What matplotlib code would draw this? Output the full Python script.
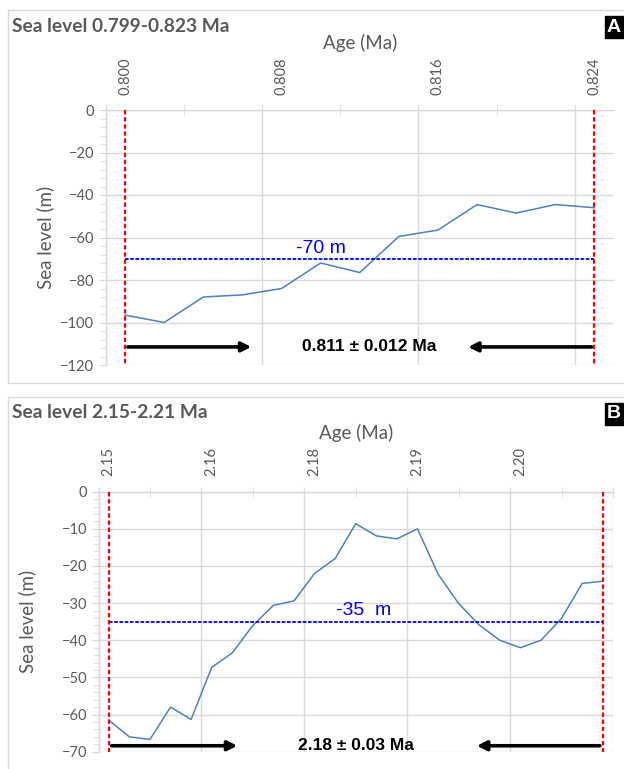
import numpy as np
import matplotlib
matplotlib.use('Agg')
import matplotlib.pyplot as plt
from matplotlib.patches import Rectangle
from matplotlib.ticker import FixedLocator, NullFormatter

# panel A data (category axis, one value per age step)
ageA = [0.800 + 0.002 * i for i in range(13)]
seaA = [-96.5, -100, -88, -87, -84, -72, -76.5, -59.5, -56.5, -44.5, -48.5, -44.5, -46]
ticksA = ['0.800', '0.808', '0.816', '0.824']
levelA = -70
labelA = '0.811 \u00b1 0.012 Ma'

# panel B data
ageB = [2.15 + 0.0025 * i for i in range(25)]
seaB = [-61.5, -66, -66.7, -58, -61.3, -47.3, -43.4, -36, -30.6, -29.4, -22, -18, -8.6,
        -11.9, -12.7, -10, -22.2, -30.1, -35.9, -40, -42, -40, -34.1, -24.7, -24.1]
ticksB = ['2.15', '2.16', '2.18', '2.19', '2.20']
levelB = -35
labelB = '2.18 \u00b1 0.03 Ma'

W, H = 624, 769
GREY = '#d9d9d9'
TXT = '#595959'
plt.rcParams['font.family'] = ['Lato', 'DejaVu Sans']

fig = plt.figure(figsize=(W / 100, H / 100), dpi=100)


def px(l, t, r, b):
    return [l / W, 1 - b / H, (r - l) / W, (b - t) / H]


def panel(rect, box, title, letter, ages, sea, ticklabs, lab_step, ymin, ystep, yminor,
          level, level_txt, level_x, arr_lab, arr_tip1, arr_tip2, arr_y, lab_x, ylab_x):
    # frame
    l, t, r, b = box
    fig.add_artist(Rectangle((l / W, 1 - b / H), (r - l) / W, (b - t) / H,
                             transform=fig.transFigure, fill=False, ec=GREY, lw=1))
    fig.text(12 / W, 1 - (t + 16) / H, title, fontsize=13.8, fontweight='bold',
             color=TXT, va='center', ha='left')
    fig.text(607 / W, 1 - (t + 17) / H, letter, fontsize=14,
             fontweight='bold', color='white', va='center', ha='left',
             family='Liberation Sans',
             bbox=dict(boxstyle='square,pad=0.12', fc='black', ec='black'))

    ax = fig.add_axes(px(*rect))
    n = len(ages)
    x = np.arange(n)
    ax.plot(x, sea, color='#4f81bd', lw=1.1, zorder=3)
    ax.set_xlim(-0.5, n - 0.5)
    ax.set_ylim(ymin, 0)

    for s in ['bottom', 'right']:
        ax.spines[s].set_visible(False)
    for s in ['left', 'top']:
        ax.spines[s].set_color(GREY)
        ax.spines[s].set_linewidth(1)

    # x axis (category boundaries as tick marks / gridlines)
    ax.xaxis.tick_top()
    bounds = np.arange(-0.5, n, lab_step)
    ax.xaxis.set_major_locator(FixedLocator(bounds))
    ax.xaxis.set_minor_locator(FixedLocator(bounds[:-1] + lab_step / 2))
    ax.xaxis.set_major_formatter(NullFormatter())
    ax.tick_params(axis='x', which='both', direction='inout', length=7, color=GREY)
    ax.grid(axis='x', which='major', color=GREY, lw=1)

    # y axis
    ax.set_yticks(np.arange(ymin, 1, ystep))
    ax.yaxis.set_minor_locator(FixedLocator(np.arange(ymin, 0.1, yminor)))
    ax.tick_params(axis='y', which='major', direction='out', length=5, color=GREY,
                   labelcolor=TXT, labelsize=10.5, pad=3)
    ax.tick_params(axis='y', which='minor', direction='out', length=4, color=GREY)
    ax.grid(axis='y', which='major', color=GREY, lw=1)
    ax.set_axisbelow(True)

    # category labels at every lab_step-th category
    sec = ax.secondary_xaxis('top')
    idx = list(range(0, n, lab_step))
    sec.set_xticks(idx, ticklabs, rotation=90)
    sec.tick_params(length=0, labelcolor=TXT, labelsize=10.5, pad=11)
    sec.spines['top'].set_visible(False)
    sec.set_xlabel('Age (Ma)', color=TXT, fontsize=13.5, labelpad=6)
    ax.set_ylabel('Sea level (m)', color=TXT, fontsize=13.5)
    ax.yaxis.set_label_coords(ylab_x, 0.5)

    # bounds of the dated interval
    for xi in [0, n - 1]:
        ax.plot([xi, xi], [0, ymin], color='red', lw=1.6, dashes=(2, 1.2), zorder=4)
    ax.plot([0, n - 1], [level, level], color='blue', lw=1.3, dashes=(2, 0.9), zorder=4)
    ax.text(level_x, level + 0.6, level_txt, color='blue', fontsize=14,
            family='Liberation Sans', ha='center', va='bottom')

    ap = dict(arrowstyle='-|>', color='black', lw=2.6, mutation_scale=14)
    ax.annotate('', xy=(arr_tip1, arr_y), xytext=(0, arr_y), arrowprops=ap,
                annotation_clip=False)
    ax.annotate('', xy=(arr_tip2, arr_y), xytext=(n - 1, arr_y), arrowprops=ap,
                annotation_clip=False)
    ax.text(lab_x, arr_y, arr_lab, fontsize=12.5, fontweight='bold',
            family='Liberation Sans', ha='center', va='center', color='black')
    return ax


panel((105.5, 110, 614, 365), (8, 10, 640, 383), 'Sea level 0.799-0.823 Ma', 'A',
      ageA, seaA, ticksA, 4, -120, 20, 4, levelA, '-70 m', 5.0,
      labelA, 3.3, 8.7, -111.5, 6.25, -0.101)
panel((98.5, 491.7, 613, 751.7), (8, 397, 640, 790), 'Sea level 2.15-2.21 Ma', 'B',
      ageB, seaB, ticksB, 5, -70, 10, 2, levelB, '-35  m', 12.4,
      labelB, 6.38, 17.75, -68.4, 12.0, -0.121)

fig.savefig('out.png', dpi=100)
